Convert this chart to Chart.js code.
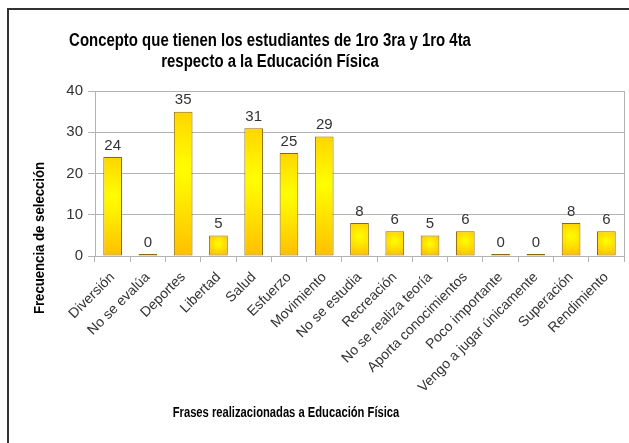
<!DOCTYPE html>
<html>
<head>
<meta charset="utf-8">
<script src="https://cdn.jsdelivr.net/npm/chart.js@4/dist/chart.umd.min.js"></script>
<style>
  html, body { margin: 0; padding: 0; background: #fff; }
  #wrap { position: relative; width: 629px; height: 443px; overflow: hidden; }
  #frame { position: absolute; left: 7px; top: 8px; width: 700px; height: 500px;
           border-left: 2px solid #333; border-top: 2px solid #333; }
  #chart { position: absolute; left: 0; top: 0; }
</style>
</head>
<body>
<div id="wrap">
  <div id="frame"></div>
  <canvas id="chart" width="629" height="443"></canvas>
</div>
<script>
// datos del gráfico
const categorias = ['Diversión', 'No se evalúa', 'Deportes', 'Libertad', 'Salud', 'Esfuerzo',
    'Movimiento', 'No se estudia', 'Recreación', 'No se realiza teoría', 'Aporta conocimientos',
    'Poco importante', 'Vengo a jugar únicamente', 'Superación', 'Rendimiento'];
const frecuencias = [24, 0, 35, 5, 31, 25, 29, 8, 6, 5, 6, 0, 0, 8, 6];
const ticksY = [0, 10, 20, 30, 40];

const titulo = ['Concepto que tienen los estudiantes de 1ro 3ra y 1ro 4ta', 'respecto a la Educación Física'];
const tituloX = 'Frases realizacionadas a Educación Física';
const tituloY = 'Frecuencia de selección';

const fuente = '"Liberation Sans", Arial, sans-serif';
const gris = '#b3b3b3';

// degradado amarillo/naranja de cada barra
function colorBarra(ctx) {
    const chart = ctx.chart;
    if (!chart.chartArea) return '#ffc000';
    const x = chart.scales.x.getPixelForValue(ctx.dataIndex);
    const yTop = chart.scales.y.getPixelForValue(ctx.raw);
    const yBase = chart.scales.y.getPixelForValue(0);
    const h = Math.max(yBase - yTop, 2);
    const cy = yTop + h * 0.4;
    const r = Math.max(h * 0.6, 12);
    const g = chart.ctx.createRadialGradient(x, cy, 0, x, cy, r);
    g.addColorStop(0, '#ffff00');
    g.addColorStop(0.4, '#ffe600');
    g.addColorStop(1, '#ffbf00');
    return g;
}

// texto comprimido a lo ancho, como en el original
function texto(ctx, s, x, y, size, escala) {
    ctx.save();
    ctx.translate(x, y);
    ctx.scale(escala, 1);
    ctx.font = 'bold ' + size + 'px ' + fuente;
    ctx.fillText(s, 0, 0);
    ctx.restore();
}

// etiquetas de valor, títulos y marco del área
const etiquetas = {
    id: 'etiquetas',
    afterDatasetsDraw(chart) {
        const ctx = chart.ctx;
        const meta = chart.getDatasetMeta(0);
        ctx.save();
        ctx.font = '15px ' + fuente;
        ctx.fillStyle = '#333';
        ctx.textAlign = 'center';
        ctx.textBaseline = 'bottom';
        meta.data.forEach(function(bar, i) {
            ctx.fillText(String(frecuencias[i]), bar.x, bar.y - 4);
        });
        const a = chart.chartArea;
        ctx.strokeStyle = gris;
        ctx.lineWidth = 1;
        ctx.beginPath();
        ctx.moveTo(Math.round(a.right) + 0.5, a.top);
        ctx.lineTo(Math.round(a.right) + 0.5, a.bottom);
        ctx.stroke();
        ctx.restore();
    },
    afterDraw(chart) {
        const ctx = chart.ctx;
        ctx.save();
        ctx.fillStyle = '#000';
        ctx.textAlign = 'center';
        ctx.textBaseline = 'middle';
        texto(ctx, titulo[0], 270, 41, 18, 0.83);
        texto(ctx, titulo[1], 270, 62, 18, 0.83);
        texto(ctx, tituloX, 286, 413, 14, 0.8);
        ctx.translate(40, 238);
        ctx.rotate(-Math.PI / 2);
        texto(ctx, tituloY, 0, 0, 14, 0.94);
        ctx.restore();
    }
};

const chart = new Chart(document.getElementById('chart').getContext('2d'), {
    type: 'bar',
    data: {
        labels: categorias,
        datasets: [{
            data: frecuencias,
            backgroundColor: colorBarra,
            borderColor: '#8a6a00',
            borderWidth: 1,
            borderSkipped: false,
            minBarLength: 2,
            categoryPercentage: 1,
            barPercentage: 0.53
        }]
    },
    options: {
        responsive: false,
        animation: false,
        layout: { padding: { top: 91, right: 5, left: 0, bottom: 0 } },
        plugins: {
            legend: { display: false },
            title: { display: false },
            tooltip: { enabled: false }
        },
        scales: {
            x: {
                afterFit: function(s) { s.height = 187; },
                grid: { offset: true, drawOnChartArea: false, color: gris, tickLength: 6 },
                border: { color: gris },
                ticks: {
                    minRotation: 45,
                    maxRotation: 45,
                    autoSkip: false,
                    padding: 7,
                    color: '#333',
                    font: { family: fuente, size: 14 }
                }
            },
            y: {
                min: 0,
                max: 40,
                afterFit: function(s) { s.width = 95; },
                afterBuildTicks: function(s) { s.ticks = ticksY.map(v => ({ value: v })); },
                grid: { color: gris, tickLength: 7 },
                border: { color: gris },
                ticks: {
                    padding: 5,
                    color: '#333',
                    font: { family: fuente, size: 15 }
                }
            }
        }
    },
    plugins: [etiquetas]
});
</script>
</body>
</html>
